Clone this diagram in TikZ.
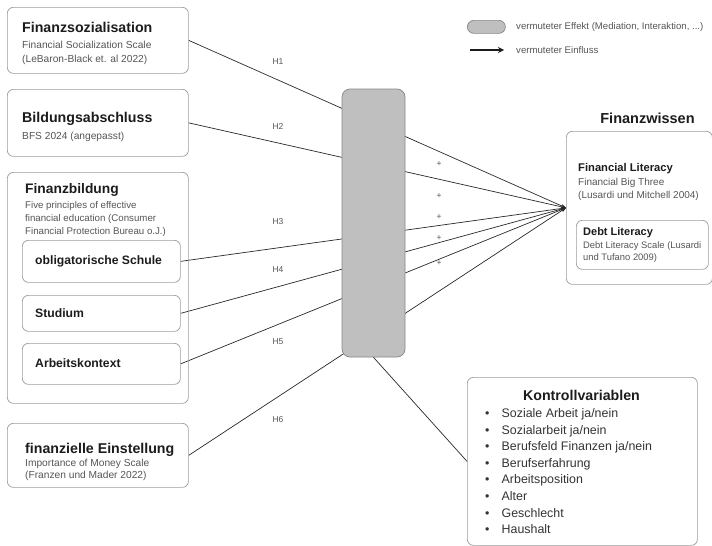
\documentclass[tikz,border=0pt]{standalone}
\usepackage{fontspec}
\setmainfont{Liberation Sans}
\usetikzlibrary{arrows.meta, positioning, backgrounds}
\definecolor{inkblack}{RGB}{28,28,28}
\definecolor{notegray}{RGB}{85,85,85}
\definecolor{framegray}{RGB}{155,155,155}
\definecolor{medfill}{RGB}{191,191,191}
\definecolor{medline}{RGB}{135,135,135}
\definecolor{pathgray}{RGB}{40,40,40}

\tikzset{
  frame/.style={draw=framegray, line width=0.7pt, rounded corners=6pt, inner sep=0pt, anchor=north west},
  vartitle/.style={font=\fontsize{14.2}{16}\selectfont\bfseries, text=inkblack, anchor=base west, inner sep=0pt},
  subtitle/.style={font=\fontsize{11.2}{13}\selectfont\bfseries, text=inkblack, anchor=base west, inner sep=0pt},
  note/.style={font=\fontsize{10}{13}\selectfont, text=notegray, anchor=base west, align=left, inner sep=0pt},
  hyp/.style={draw=pathgray, line width=0.7pt},
  hlabel/.style={font=\fontsize{8.5}{10}\selectfont, text=notegray, inner sep=0pt},
  kvitem/.style={font=\fontsize{12.4}{14}\selectfont, text=inkblack!90, anchor=base west, inner sep=0pt}
}

\begin{document}
\begin{tikzpicture}[x=1pt, y=-1pt, >=Stealth]
    \useasboundingbox (0,0) rectangle (712,546);

    % Predictors (left column); multi-line notes sit on their last baseline
    \node[frame, minimum width=181pt, minimum height=66pt] (sozial) at (7,7) {};
    \node[vartitle] (sozialT) at (22,32) {Finanzsozialisation};
    \node[note, font=\fontsize{10.2}{14.5}\selectfont] (sozialN) at (22,62.5)
        {Financial Socialization Scale\\(LeBaron-Black et. al 2022)};

    \node[frame, minimum width=181pt, minimum height=67pt] (abschluss) at (7,89) {};
    \node[vartitle] (abschlussT) at (22,122) {Bildungsabschluss};
    \node[note, font=\fontsize{10.2}{14}\selectfont] (abschlussN) at (22,139) {BFS 2024 (angepasst)};

    \node[frame, minimum width=181pt, minimum height=231pt] (fbildung) at (7,172) {};
    \node[vartitle, font=\fontsize{13.8}{16}\selectfont\bfseries] (fbildungT) at (25,193) {Finanzbildung};
    \node[note, font=\fontsize{9.7}{13.3}\selectfont] (fbildungN) at (25,234.6)
        {Five principles of effective\\financial education (Consumer\\Financial Protection Bureau o.J.)};

    % Sub-boxes of Finanzbildung
    \node[frame, minimum width=158pt, minimum height=42pt] (schule) at (22,240) {};
    \node[subtitle, font=\fontsize{12.2}{14}\selectfont\bfseries, anchor=west] (schuleT) at (35,261.5) {obligatorische Schule};
    \node[frame, minimum width=158pt, minimum height=36pt] (studium) at (22,295) {};
    \node[subtitle, font=\fontsize{12.2}{14}\selectfont\bfseries, anchor=west] (studiumT) at (35,313.5) {Studium};
    \node[frame, minimum width=158pt, minimum height=41pt] (arbeit) at (22,343) {};
    \node[subtitle, font=\fontsize{12.2}{14}\selectfont\bfseries, anchor=west] (arbeitT) at (35,363) {Arbeitskontext};

    \node[frame, minimum width=181pt, minimum height=64pt] (einstellung) at (7,423) {};
    \node[vartitle] (einstellungT) at (25,453) {finanzielle Einstellung};
    \node[note, font=\fontsize{10.2}{12.5}\selectfont] (einstellungN) at (25,478.5)
        {Importance of Money Scale\\(Franzen und Mader 2022)};

    % Outcome
    \node[vartitle, font=\fontsize{14.5}{16}\selectfont\bfseries, anchor=base] (wissenT) at (647.5,123) {Finanzwissen};
    \node[frame, minimum width=146pt, minimum height=153pt] (wissen) at (566,131) {};
    \node[subtitle] (litT) at (578,171) {Financial Literacy};
    \node[note] (litN) at (578,198) {Financial Big Three\\(Lusardi und Mitchell 2004)};
    \node[frame, minimum width=132pt, minimum height=49pt] (debt) at (576,220) {};
    \node[subtitle, font=\fontsize{11}{13}\selectfont\bfseries] (debtT) at (583,235) {Debt Literacy};
    \node[note, font=\fontsize{9.4}{12.5}\selectfont] (debtN) at (583,260.5) {Debt Literacy Scale (Lusardi\\und Tufano 2009)};

    % Mediator / moderator
    \node[draw=medline, fill=medfill, line width=0.7pt, rounded corners=8pt, inner sep=0pt,
          minimum width=63pt, minimum height=268pt] (med) at (373.5,223) {};

    % Control variables
    \node[frame, minimum width=230pt, minimum height=168pt] (kontroll) at (467,377) {};
    \node[vartitle, anchor=base] (kontrollT) at (581.5,400) {Kontrollvariablen};
    \foreach \kv [count=\k from 0] in {Soziale Arbeit ja/nein, Sozialarbeit ja/nein,
        Berufsfeld Finanzen ja/nein, Berufserfahrung, Arbeitsposition, Alter, Geschlecht, Haushalt}
    {
        \node[kvitem] (kvb\k) at (485,{417.5+16.6*\k}) {\textbullet};
        \node[kvitem] (kv\k) at (501.5,{417.5+16.6*\k}) {\kv};
    }

    % Hypotheses
    \begin{scope}[on background layer]
        \draw[hyp, -{Stealth[length=5pt, width=3.6pt]}] (sozial.east) -- (wissen.west);
        \draw[hyp, -{Stealth[length=5pt, width=3.6pt]}] (abschluss.east) -- (wissen.west);
        \draw[hyp, -{Stealth[length=5pt, width=3.6pt]}] (schule.east) -- (wissen.west);
        \draw[hyp, -{Stealth[length=5pt, width=3.6pt]}] (studium.east) -- (wissen.west);
        \draw[hyp, -{Stealth[length=5pt, width=3.6pt]}] (arbeit.east) -- (wissen.west);
        \draw[hyp, -{Stealth[length=5pt, width=3.6pt]}] (einstellung.east) -- (wissen.west);
    \end{scope}
    \draw[hyp] (med.south) -- (kontroll.west);

    \foreach \y [count=\n] in {62,127,222,270,342,420}
        \node[hlabel] (h\n) at (278,\y) {H\n};
    \foreach \y [count=\n] in {164,196,217,238,263}
        \node[hlabel] (plus\n) at (439,\y) {+};

    % Legend
    \node[draw=medline, fill=medfill, line width=0.7pt, rounded corners=6.5pt, inner sep=0pt,
          minimum width=38pt, minimum height=13pt, anchor=north west] (legmed) at (467,20) {};
    \node[note, font=\fontsize{9.6}{12}\selectfont, anchor=west] (legmedT) at (516,27) {vermuteter Effekt (Mediation, Interaktion, ...)};
    \coordinate (legA) at (470,50);
    \coordinate (legB) at (504,50);
    \draw[line width=1.4pt, inkblack, -{Stealth[length=6pt, width=6pt]}] (legA) -- (legB);
    \node[note, font=\fontsize{9.6}{12}\selectfont, anchor=west] (legpathT) at (516,50) {vermuteter Einfluss};
\end{tikzpicture}
\end{document}
